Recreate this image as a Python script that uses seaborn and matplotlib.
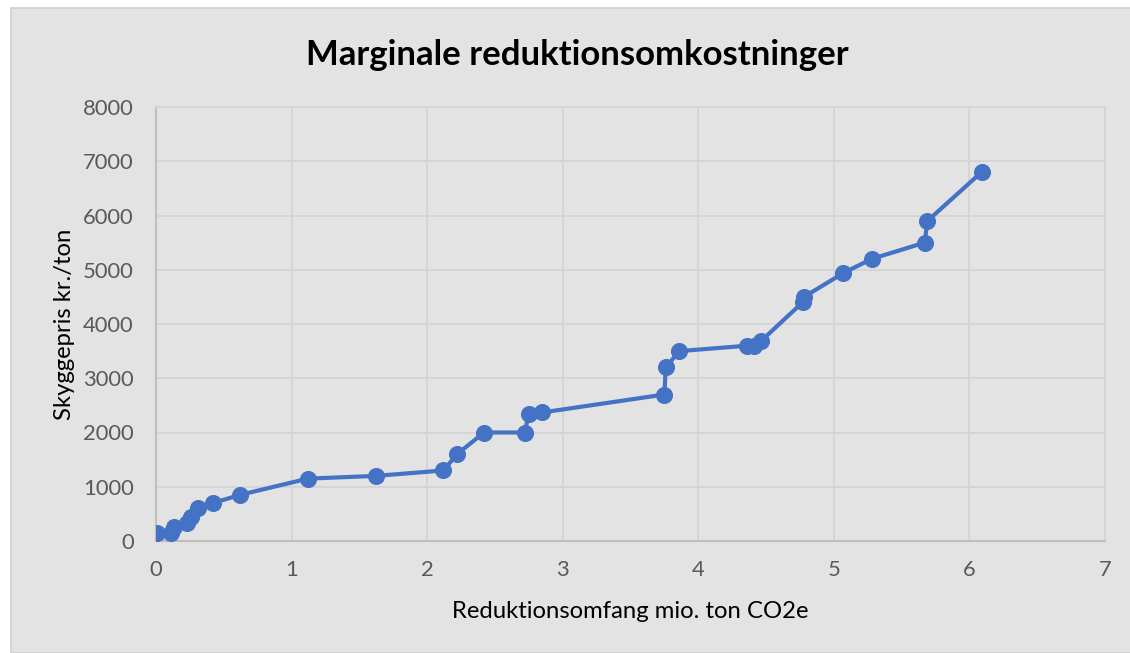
import matplotlib
matplotlib.use("Agg")
import matplotlib.pyplot as plt
import seaborn as sns
import pandas as pd
from matplotlib.patches import Rectangle

# Data
reduktion = [0.01, 0.11, 0.13, 0.23, 0.26, 0.31, 0.42, 0.62, 1.12, 1.62,
             2.12, 2.22, 2.42, 2.72, 2.75, 2.85, 3.75, 3.76, 3.86, 4.36,
             4.41, 4.46, 4.77, 4.78, 5.07, 5.28, 5.67, 5.69, 6.09]
skyggepris = [150, 140, 250, 340, 450, 600, 700, 850, 1150, 1200,
              1300, 1600, 2000, 2000, 2350, 2370, 2700, 3200, 3500, 3600,
              3600, 3680, 4400, 4500, 4940, 5200, 5500, 5900, 6800]
x_ticks = [0, 1, 2, 3, 4, 5, 6, 7]
y_ticks = [0, 1000, 2000, 3000, 4000, 5000, 6000, 7000, 8000]

df = pd.DataFrame({"x": reduktion, "y": skyggepris})

sns.set_theme(style="whitegrid")
plt.rcParams['font.family'] = ['Lato', 'DejaVu Sans']

bg = "#E3E3E3"
fig = plt.figure(figsize=(11.3, 6.53), dpi=100, facecolor="white")
fig.patches.append(Rectangle((11 / 1130, 0), 1.2, 1 - 8 / 653, transform=fig.transFigure,
                             facecolor=bg, edgecolor="#D0D0D0", linewidth=1.2, zorder=-10))
ax = fig.add_axes([156 / 1130, 1 - 541 / 653, (1105 - 156) / 1130, (541 - 107) / 653])
ax.set_facecolor(bg)

color = "#4472C4"
sns.lineplot(data=df, x="x", y="y", sort=False, ax=ax, color=color, linewidth=3,
             marker="o", markersize=11.5, markeredgecolor=color, markerfacecolor=color,
             zorder=3)

ax.set_xlim(0, 7)
ax.set_ylim(0, 8000)
ax.set_xticks(x_ticks)
ax.set_yticks(y_ticks)
ax.tick_params(axis="y", labelsize=15.8, colors="#595959", length=0, pad=16)
ax.tick_params(axis="x", labelsize=15.8, colors="#595959", length=0, pad=14)
ax.grid(True, color="#D4D4D4", linewidth=1.3)
for side in ["top", "right"]:
    ax.spines[side].set_color("#D4D4D4")
    ax.spines[side].set_linewidth(1.3)
for side in ["left", "bottom"]:
    ax.spines[side].set_color("#BFBFBF")
    ax.spines[side].set_linewidth(1.5)

ax.set_xlabel("Reduktionsomfang mio. ton CO2e", fontsize=17.2, color="black", labelpad=15)
ax.set_ylabel("Skyggepris kr./ton", fontsize=17.2, color="black", labelpad=6)
fig.text(577 / 1130, 1 - 55 / 653, "Marginale reduktionsomkostninger", ha="center", va="center",
         fontsize=25, fontweight="bold", color="black")

fig.savefig("out.png", dpi=100, facecolor=fig.get_facecolor())
